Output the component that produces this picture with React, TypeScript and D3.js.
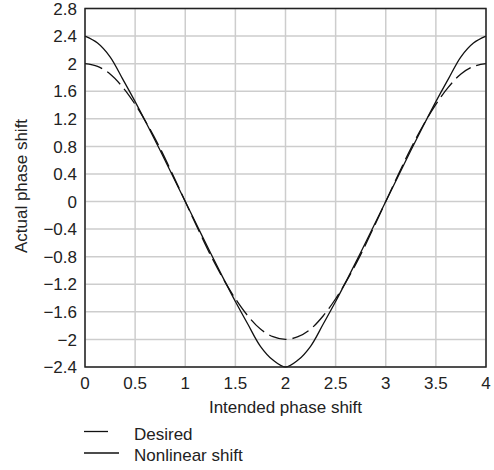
import React from "react";
import * as d3 from "d3";

const xValues = [0, 0.125, 0.25, 0.375, 0.5, 0.625, 0.75, 0.875, 1, 1.125, 1.25, 1.375, 1.5, 1.625, 1.75, 1.875, 2,
  2.125, 2.25, 2.375, 2.5, 2.625, 2.75, 2.875, 3, 3.125, 3.25, 3.375, 3.5, 3.625, 3.75, 3.875, 4];
const desired = [2, 1.96, 1.85, 1.66, 1.41, 1.11, 0.77, 0.39, 0, -0.39, -0.77, -1.11, -1.41, -1.66, -1.85, -1.96, -2,
  -1.96, -1.85, -1.66, -1.41, -1.11, -0.77, -0.39, 0, 0.39, 0.77, 1.11, 1.41, 1.66, 1.85, 1.96, 2];
const nonlinear = [2.4, 2.3, 2.1, 1.78, 1.45, 1.1, 0.74, 0.37, 0, -0.37, -0.74, -1.1, -1.45, -1.78, -2.1, -2.3, -2.4,
  -2.3, -2.1, -1.78, -1.45, -1.1, -0.74, -0.37, 0, 0.37, 0.74, 1.1, 1.45, 1.78, 2.1, 2.3, 2.4];
const xTicks = [0, 0.5, 1, 1.5, 2, 2.5, 3, 3.5, 4];
const yTicks = [2.8, 2.4, 2, 1.6, 1.2, 0.8, 0.4, 0, -0.4, -0.8, -1.2, -1.6, -2, -2.4];
const seriesNames = ["Desired", "Nonlinear shift"];

const W = 494, H = 470;
const L = 85, R = 486, T = 8.5, B = 367;
const FONT = "'Liberation Sans', Arial, sans-serif";

const fmt = (v: number) => {
  const s = String(Math.abs(Math.round(v * 10) / 10));
  return v < 0 ? "\u2212" + s : s;
};

export default function App() {
  const x = d3.scaleLinear().domain([0, 4]).range([L, R]);
  const y = d3.scaleLinear().domain([-2.4, 2.8]).range([B, T]);
  const line = (vals: number[]) =>
    d3.line<number>().x((_, i) => x(xValues[i])).y((d) => y(d)).curve(d3.curveCatmullRom)(vals) || "";

  return (
    <svg width={W} height={H} style={{ position: "absolute", left: 0, top: 0, background: "#fff" }}
      fontFamily={FONT} fontSize={17} fill="#222">
      <rect x={0} y={0} width={W} height={H} fill="#fff" />
      {xTicks.map((t) => (
        <line key={"gx" + t} x1={x(t)} x2={x(t)} y1={T} y2={B} stroke="#cdcdcd" strokeWidth={1.5} />
      ))}
      {yTicks.map((t) => (
        <line key={"gy" + t} x1={L} x2={R} y1={y(t)} y2={y(t)} stroke="#cdcdcd" strokeWidth={1.5} />
      ))}
      <path d={line(desired)} fill="none" stroke="#111" strokeWidth={1.3} strokeDasharray="18,6" />
      <path d={line(nonlinear)} fill="none" stroke="#111" strokeWidth={1.3} />
      <rect x={L} y={T} width={R - L} height={B - T} fill="none" stroke="#222" strokeWidth={1.5} />
      {yTicks.map((t) => (
        <text key={"ty" + t} x={77} y={y(t)} dy="0.36em" textAnchor="end">{fmt(t)}</text>
      ))}
      {xTicks.map((t) => (
        <text key={"tx" + t} x={x(t)} y={389} textAnchor="middle">{fmt(t)}</text>
      ))}
      <text x={(L + R) / 2} y={413} textAnchor="middle">Intended phase shift</text>
      <text transform="translate(27,186) rotate(-90)" textAnchor="middle">Actual phase shift</text>
      <line x1={84} x2={108} y1={431.5} y2={431.5} stroke="#111" strokeWidth={1.3} />
      <text x={134} y={440}>{seriesNames[0]}</text>
      <line x1={84} x2={119} y1={453} y2={453} stroke="#111" strokeWidth={1.3} />
      <text x={134} y={461}>{seriesNames[1]}</text>
    </svg>
  );
}
